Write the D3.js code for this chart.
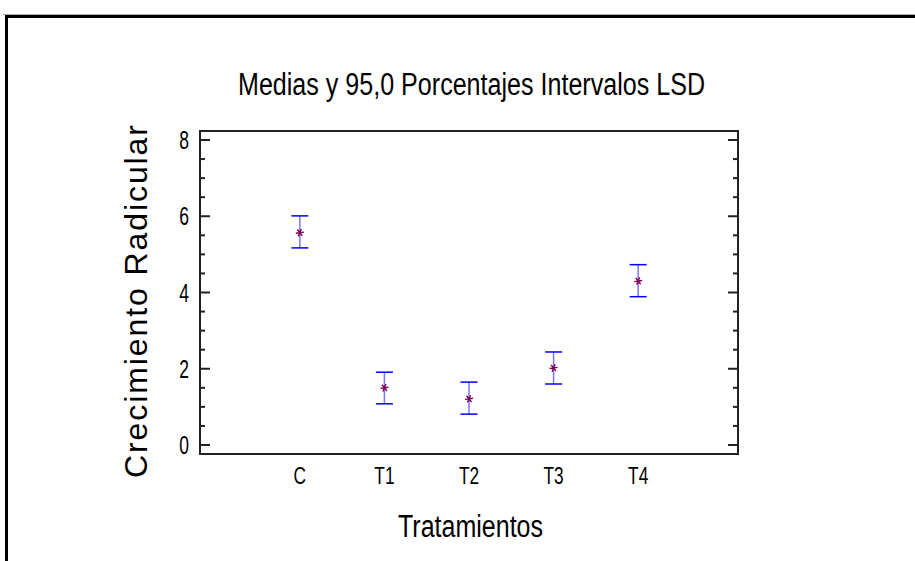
<!DOCTYPE html>
<html>
<head>
<meta charset="utf-8">
<script src="https://cdn.jsdelivr.net/npm/d3@7"></script>
<style>
  body { margin: 0; background: #fff; }
  text { fill: #000; font-family: 'Liberation Sans', Arial, sans-serif; }
</style>
</head>
<body>
<script>
// data
var tratamientos = ["C", "T1", "T2", "T3", "T4"];
var medias = [5.57, 1.50, 1.21, 2.02, 4.30];
var inferior = [5.17, 1.08, 0.81, 1.60, 3.89];
var superior = [6.01, 1.91, 1.65, 2.44, 4.73];
var yTicks = [0, 2, 4, 6, 8];
var yMinor = d3.range(0, 8.01, 0.5);

var width = 915, height = 561;
var svg = d3.select("body").append("svg")
    .attr("width", width)
    .attr("height", height);

// outer frame (top + left edges only visible)
svg.append("line").attr("x1", 3).attr("x2", width).attr("y1", 14.5).attr("y2", 14.5)
    .attr("stroke", "#aaa").attr("stroke-width", 1);
svg.append("line").attr("x1", 5).attr("x2", width).attr("y1", 16.5).attr("y2", 16.5)
    .attr("stroke", "#000").attr("stroke-width", 3);
svg.append("line").attr("x1", 6.5).attr("x2", 6.5).attr("y1", 15).attr("y2", height)
    .attr("stroke", "#000").attr("stroke-width", 3);

var plot = {left: 200, top: 131, right: 738, bottom: 454};

var x = d3.scalePoint()
    .domain(tratamientos)
    .range([plot.left, plot.right])
    .padding(1.18);

var y = d3.scaleLinear()
    .domain([0, 8])
    .range([445, 140]);

// plot box
svg.append("rect")
    .attr("x", plot.left).attr("y", plot.top)
    .attr("width", plot.right - plot.left).attr("height", plot.bottom - plot.top)
    .attr("fill", "none").attr("stroke", "#222").attr("stroke-width", 2);

// ticks on left and right, inward
var ticks = svg.append("g").attr("stroke", "#222").attr("stroke-width", 2);
yMinor.forEach(function(v) {
    var major = yTicks.indexOf(v) >= 0;
    var len = major ? 10 : 5;
    ticks.append("line")
        .attr("x1", plot.left).attr("x2", plot.left + len)
        .attr("y1", y(v)).attr("y2", y(v));
    ticks.append("line")
        .attr("x1", plot.right).attr("x2", plot.right - len)
        .attr("y1", y(v)).attr("y2", y(v));
});

// condensed look: squeeze glyphs horizontally
svg.append("g").selectAll("text")
    .data(yTicks)
    .enter().append("text")
    .attr("transform", function(d) { return "translate(" + (plot.left - 11) + "," + (y(d) + 9) + ") scale(0.7,1)"; })
    .attr("text-anchor", "end")
    .style("font-size", "25px")
    .text(function(d) { return d; });

svg.append("g").selectAll("text")
    .data(tratamientos)
    .enter().append("text")
    .attr("transform", function(d) { return "translate(" + x(d) + ",484) scale(0.72,1)"; })
    .attr("text-anchor", "middle")
    .style("font-size", "24px")
    .text(function(d) { return d; });

// error bars
var bars = svg.append("g").selectAll("g")
    .data(tratamientos)
    .enter().append("g");

bars.append("line")
    .attr("x1", function(d) { return x(d); })
    .attr("x2", function(d) { return x(d); })
    .attr("y1", function(d, i) { return y(superior[i]); })
    .attr("y2", function(d, i) { return y(inferior[i]); })
    .attr("stroke", "#7777ff").attr("stroke-width", 1.5);

[superior, inferior].forEach(function(arr) {
    bars.append("line")
        .attr("x1", function(d) { return x(d) - 8.5; })
        .attr("x2", function(d) { return x(d) + 8.5; })
        .attr("y1", function(d, i) { return y(arr[i]); })
        .attr("y2", function(d, i) { return y(arr[i]); })
        .attr("stroke", "#0000ff").attr("stroke-width", 1.5);
});

bars.append("path")
    .attr("d", d3.symbol().type(d3.symbolAsterisk).size(45))
    .attr("transform", function(d, i) { return "translate(" + x(d) + "," + y(medias[i]) + ") rotate(22)"; })
    .attr("fill", "none")
    .attr("stroke", "#800050").attr("stroke-width", 1.4);

// titles
svg.append("text")
    .attr("x", 238).attr("y", 95)
    .attr("textLength", 467)
    .attr("lengthAdjust", "spacingAndGlyphs")
    .style("font-size", "31px")
    .text("Medias y 95,0 Porcentajes Intervalos LSD");

svg.append("text")
    .attr("transform", "translate(147,478) rotate(-90)")
    .attr("textLength", 353)
    .attr("lengthAdjust", "spacing")
    .style("font-size", "32px")
    .text("Crecimiento Radicular");

svg.append("text")
    .attr("x", 398).attr("y", 537)
    .attr("textLength", 145)
    .attr("lengthAdjust", "spacingAndGlyphs")
    .style("font-size", "31px")
    .text("Tratamientos");
</script>
</body>
</html>
